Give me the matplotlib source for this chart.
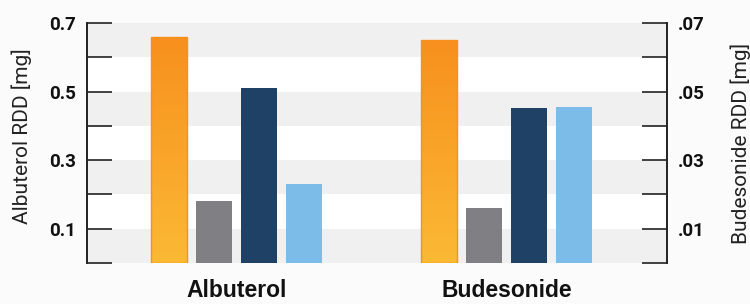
import matplotlib.pyplot as plt
import numpy as np
from matplotlib.colors import LinearSegmentedColormap
from matplotlib.transforms import blended_transform_factory

plt.rcParams['font.family'] = ['Roboto', 'DejaVu Sans']

# data
groups = ['Albuterol', 'Budesonide']
albuterol = [0.659, 0.181, 0.510, 0.230]     # left axis, mg
budesonide = [0.0650, 0.0160, 0.0452, 0.0455]  # right axis, mg
left_ticks = [0.1, 0.3, 0.5, 0.7]
left_labels = ['0.1', '0.3', '0.5', '0.7']
right_ticks = [0.01, 0.03, 0.05, 0.07]
right_labels = ['.01', '.03', '.05', '.07']

colors = ['#f7921f', '#808084', '#204166', '#7bbde8']
group_x = [0, 6]
offsets = [-1.5, -0.5, 0.5, 1.5]
width = 0.8

fig = plt.figure(figsize=(7.5, 3.04), dpi=100, facecolor='#fbfbfb')
ax = fig.add_axes([87 / 750, 1 - 263 / 304, 580 / 750, 240 / 304])
ax2 = ax.twinx()

ax.set_facecolor('white')

# alternating bands
for lo in [0.0, 0.2, 0.4, 0.6]:
    ax.axhspan(lo, lo + 0.1, color='#f0f0f0', lw=0, zorder=0)

orange_cmap = LinearSegmentedColormap.from_list('og', ['#fbb934', '#f7901e'])
grad = np.linspace(0, 1, 256).reshape(-1, 1)


def draw_bars(axis, gx, vals):
    for i, v in enumerate(vals):
        x = gx + offsets[i]
        b = axis.bar(x, v, width=width, color=colors[i], lw=0, zorder=2)[0]
        if i == 0:
            im = axis.imshow(grad, cmap=orange_cmap, origin='lower', aspect='auto',
                             extent=[x - width / 2, x + width / 2, 0, v], zorder=3)
            im.set_clip_path(b)
            axis.bar(x, v, width=width, fill=False, edgecolor='#f7901e', lw=1.0, zorder=4)


draw_bars(ax, group_x[0], albuterol)
draw_bars(ax2, group_x[1], budesonide)
ax.set_xlim(-3.32, 9.57)
ax.set_ylim(0, 0.7)
ax2.set_ylim(0, 0.07)

# ticks
lt = np.arange(0, 0.71, 0.1)
ax.set_yticks(lt)
ax.set_yticklabels([left_labels[left_ticks.index(round(t, 1))] if round(t, 1) in left_ticks else ''
                    for t in lt])
rt = np.arange(0, 0.071, 0.01)
ax2.set_yticks(rt)
ax2.set_yticklabels([right_labels[right_ticks.index(round(t, 2))] if round(t, 2) in right_ticks else ''
                     for t in rt])
for a in (ax, ax2):
    a.tick_params(axis='y', direction='in', length=18, width=1.2, color='#222222',
                  labelsize=13.5, pad=8)
    for lab in a.get_yticklabels():
        lab.set_fontweight('bold')
        lab.set_color('#111111')
    for s in ['top', 'bottom']:
        a.spines[s].set_visible(False)
ax.spines['left'].set_linewidth(1.4)
ax.spines['left'].set_color('#222222')
ax2.spines['right'].set_linewidth(1.4)
ax2.spines['right'].set_color('#222222')
ax2.spines['left'].set_visible(False)
ax.spines['right'].set_visible(False)

ax.set_xticks([])
trans = blended_transform_factory(ax.transData, ax.transAxes)
for gx, name in zip(group_x, groups):
    ax.text(gx, -34 / 240, name, transform=trans, ha='center', va='baseline',
            fontsize=16.5, fontweight='bold', color='#111111',
            family=['Liberation Sans', 'DejaVu Sans'])

ax.set_ylabel('Albuterol RDD [mg]', fontsize=15, color='#222222')
ax.yaxis.set_label_coords(-0.0948, 0.53)
ax2.set_ylabel('Budesonide RDD [mg]', fontsize=15, color='#222222')
ax2.yaxis.set_label_coords(1.1086, 0.50)

fig.savefig('out.png', dpi=100, facecolor=fig.get_facecolor())
